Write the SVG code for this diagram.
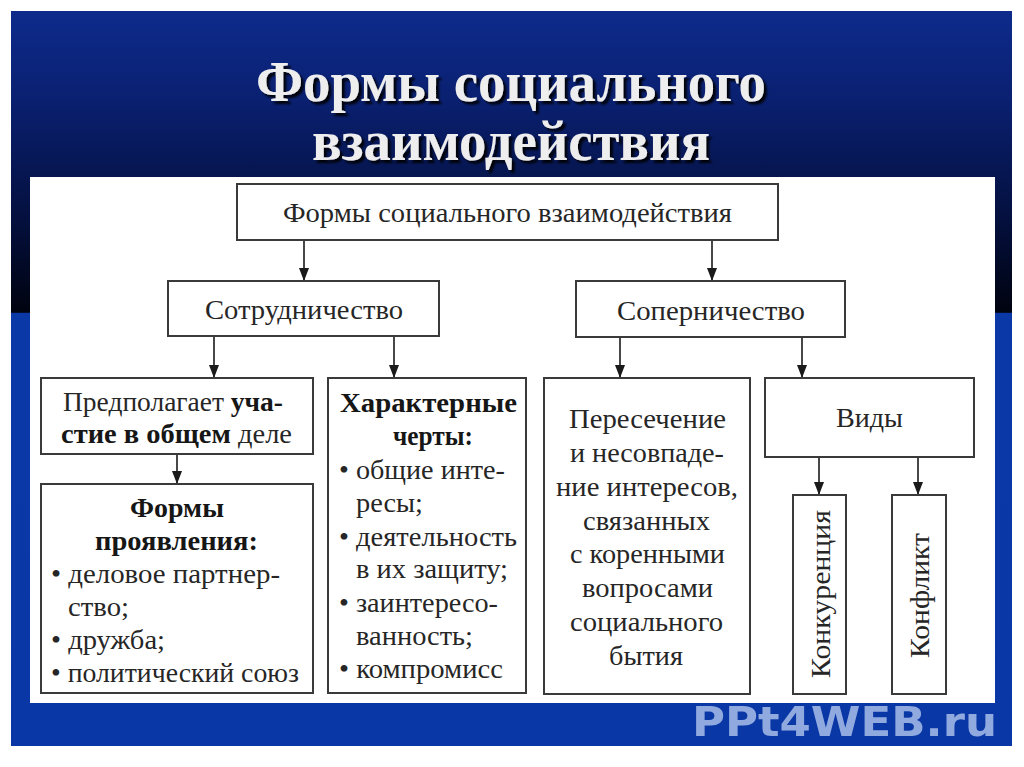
<svg xmlns="http://www.w3.org/2000/svg" width="1024" height="767" viewBox="0 0 1024 767">
  <defs>
    <linearGradient id="bg" x1="0" y1="11" x2="0" y2="746" gradientUnits="userSpaceOnUse">
      <stop offset="0" stop-color="#0e2b8c"/>
      <stop offset="0.12" stop-color="#0a2070"/>
      <stop offset="0.28" stop-color="#04103f"/>
      <stop offset="0.41" stop-color="#00030f"/>
      <stop offset="0.411" stop-color="#0a38a6"/>
      <stop offset="1" stop-color="#0a37a6"/>
    </linearGradient>
    <filter id="shadow" x="-5%" y="-20%" width="110%" height="140%">
      <feDropShadow dx="3" dy="3" stdDeviation="1.2" flood-color="#000000" flood-opacity="0.9"/>
    </filter>
    <marker id="arr" viewBox="0 0 13 10" refX="13" refY="5" markerWidth="13" markerHeight="10" markerUnits="userSpaceOnUse" orient="auto">
      <path d="M0,0 L13,5 L0,10 z" fill="#1a1a1a"/>
    </marker>
    <style>
      .box { fill: #ffffff; stroke: #3a3a3a; stroke-width: 2; }
      .t { font-family: "Liberation Serif", "Times New Roman", serif; fill: #262626; font-size: 27px; }
      .b { font-weight: bold; fill: #161616; }
      .conn line { stroke: #1a1a1a; stroke-width: 1.6; marker-end: url(#arr); }
      .title { font-family: "Liberation Serif", "Times New Roman", serif; font-weight: bold; font-size: 56px; fill: #eeeeee; filter: url(#shadow); }
    </style>
  </defs>

  <rect x="0" y="0" width="1024" height="767" fill="#ffffff"/>
  <rect x="11" y="11" width="1001" height="735" fill="url(#bg)"/>

  <g id="title">
    <text class="title" x="256" y="101" textLength="510" lengthAdjust="spacingAndGlyphs">Формы социального</text>
    <text class="title" x="312" y="160" textLength="398" lengthAdjust="spacingAndGlyphs">взаимодействия</text>
  </g>

  <rect x="30" y="177" width="965" height="526" fill="#ffffff"/>

  <g id="watermark">
    <text x="692" y="736" textLength="305" lengthAdjust="spacingAndGlyphs" font-family="'DejaVu Sans', Verdana, sans-serif" font-weight="bold" font-size="40" fill="#9fb6e6" opacity="0.9">PPt4WEB.ru</text>
  </g>

  <g id="connectors" class="conn">
    <line x1="304" y1="240" x2="304" y2="281"/>
    <line x1="712" y1="240" x2="712" y2="281"/>
    <line x1="214" y1="336" x2="214" y2="378"/>
    <line x1="394" y1="336" x2="394" y2="378"/>
    <line x1="620" y1="337" x2="620" y2="378"/>
    <line x1="802" y1="337" x2="802" y2="378"/>
    <line x1="177" y1="454" x2="177" y2="484"/>
    <line x1="819" y1="457" x2="819" y2="495"/>
    <line x1="918" y1="457" x2="918" y2="495"/>
  </g>

  <g id="n-root">
    <rect class="box" x="237" y="184" width="541" height="56"/>
    <text class="t" x="283" y="222" textLength="449" lengthAdjust="spacingAndGlyphs">Формы социального взаимодействия</text>
  </g>

  <g id="n-coop">
    <rect class="box" x="168" y="281" width="271" height="55"/>
    <text class="t" x="205" y="319" textLength="198" lengthAdjust="spacingAndGlyphs">Сотрудничество</text>
  </g>

  <g id="n-rival">
    <rect class="box" x="576" y="281" width="269" height="56"/>
    <text class="t" x="617" y="320" textLength="188" lengthAdjust="spacingAndGlyphs">Соперничество</text>
  </g>

  <g id="n-part">
    <rect class="box" x="41" y="378" width="272" height="76"/>
    <text class="t" x="63" y="411" textLength="220" lengthAdjust="spacingAndGlyphs">Предполагает <tspan class="b">уча-</tspan></text>
    <text class="t" x="61" y="443" textLength="231" lengthAdjust="spacingAndGlyphs"><tspan class="b">стие в общем</tspan> деле</text>
  </g>

  <g id="n-forms">
    <rect class="box" x="41" y="484" width="272" height="209"/>
    <text class="t b" x="130" y="517" textLength="94" lengthAdjust="spacingAndGlyphs">Формы</text>
    <text class="t b" x="95" y="550" textLength="163" lengthAdjust="spacingAndGlyphs">проявления:</text>
    <text class="t" x="51" y="583" textLength="229" lengthAdjust="spacingAndGlyphs">• деловое партнер-</text>
    <text class="t" x="68" y="616" textLength="61" lengthAdjust="spacingAndGlyphs">ство;</text>
    <text class="t" x="51" y="649" textLength="114" lengthAdjust="spacingAndGlyphs">• дружба;</text>
    <text class="t" x="51" y="682" textLength="248" lengthAdjust="spacingAndGlyphs">• политический союз</text>
  </g>

  <g id="n-traits">
    <rect class="box" x="328" y="378" width="198" height="315"/>
    <text class="t b" x="340" y="412" textLength="177" lengthAdjust="spacingAndGlyphs">Характерные</text>
    <text class="t b" x="393" y="445" textLength="80" lengthAdjust="spacingAndGlyphs">черты:</text>
    <text class="t" x="339" y="479" textLength="166" lengthAdjust="spacingAndGlyphs">• общие инте-</text>
    <text class="t" x="356" y="512" textLength="67" lengthAdjust="spacingAndGlyphs">ресы;</text>
    <text class="t" x="339" y="546" textLength="178" lengthAdjust="spacingAndGlyphs">• деятельность</text>
    <text class="t" x="356" y="578" textLength="152" lengthAdjust="spacingAndGlyphs">в их защиту;</text>
    <text class="t" x="339" y="612" textLength="159" lengthAdjust="spacingAndGlyphs">• заинтересо-</text>
    <text class="t" x="356" y="645" textLength="117" lengthAdjust="spacingAndGlyphs">ванность;</text>
    <text class="t" x="339" y="678" textLength="164" lengthAdjust="spacingAndGlyphs">• компромисс</text>
  </g>

  <g id="n-cross">
    <rect class="box" x="544" y="378" width="206" height="316"/>
    <text class="t" x="569" y="428" textLength="157" lengthAdjust="spacingAndGlyphs">Пересечение</text>
    <text class="t" x="570" y="462" textLength="154" lengthAdjust="spacingAndGlyphs">и несовпаде-</text>
    <text class="t" x="556" y="496" textLength="182" lengthAdjust="spacingAndGlyphs">ние интересов,</text>
    <text class="t" x="583" y="530" textLength="127" lengthAdjust="spacingAndGlyphs">связанных</text>
    <text class="t" x="570" y="563" textLength="155" lengthAdjust="spacingAndGlyphs">с коренными</text>
    <text class="t" x="582" y="597" textLength="131" lengthAdjust="spacingAndGlyphs">вопросами</text>
    <text class="t" x="570" y="631" textLength="153" lengthAdjust="spacingAndGlyphs">социального</text>
    <text class="t" x="609" y="665" textLength="74" lengthAdjust="spacingAndGlyphs">бытия</text>
  </g>

  <g id="n-kinds">
    <rect class="box" x="765" y="378" width="209" height="79"/>
    <text class="t" x="836" y="427" textLength="67" lengthAdjust="spacingAndGlyphs">Виды</text>
  </g>

  <g id="n-compet">
    <rect class="box" x="793" y="495" width="53" height="199"/>
    <text class="t" transform="translate(830,678) rotate(-90)" x="0" y="0" textLength="168" lengthAdjust="spacingAndGlyphs">Конкуренция</text>
  </g>

  <g id="n-conflict">
    <rect class="box" x="892" y="495" width="54" height="199"/>
    <text class="t" transform="translate(929,658) rotate(-90)" x="0" y="0" textLength="125" lengthAdjust="spacingAndGlyphs">Конфликт</text>
  </g>
</svg>
